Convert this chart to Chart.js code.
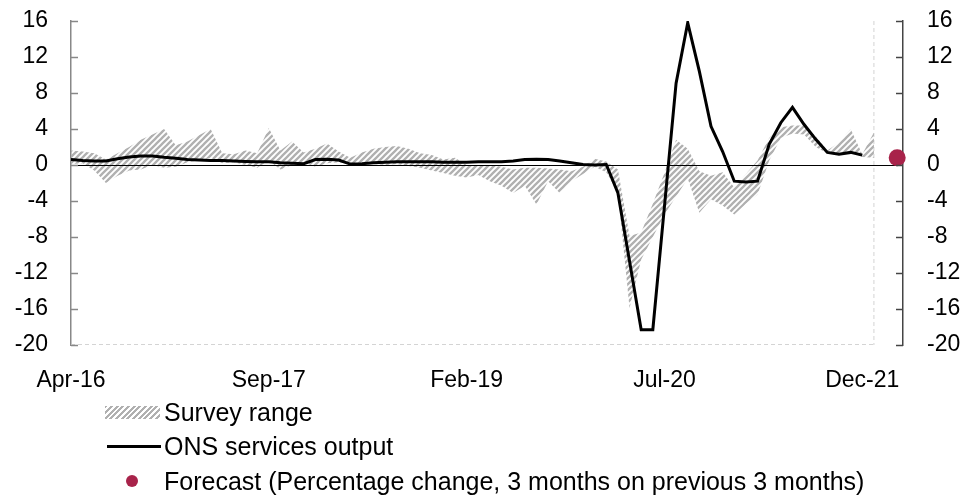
<!DOCTYPE html>
<html>
<head>
<meta charset="utf-8">
<script src="https://cdn.jsdelivr.net/npm/chart.js@4.4.1/dist/chart.umd.min.js"></script>
<style>
  body { margin: 0; background: #fff; }
  #wrap { position: relative; width: 966px; height: 497px; font-family: "Liberation Sans", Arial, sans-serif; }
  #chart { position: absolute; left: 0; top: 0; }
  .leg { position: absolute; left: 164px; font-size: 25px; color: #000; line-height: 1; white-space: nowrap; transform: translateY(-50%); }
  .sw { position: absolute; }
</style>
</head>
<body>
<div id="wrap">
  <canvas id="chart" width="966" height="497"></canvas>
  <div class="sw" style="left:105px;top:406px;width:55px;height:13px;background:repeating-linear-gradient(135deg,#b0b0b0 0 2px,#fff 2px 4px)"></div>
  <div class="leg" style="top:412px">Survey range</div>
  <div class="sw" style="left:107px;top:445px;width:54px;height:3px;background:#000"></div>
  <div class="leg" style="top:446px">ONS services output</div>
  <div class="sw" style="left:126px;top:475px;width:12px;height:12px;border-radius:50%;background:#a8234a"></div>
  <div class="leg" style="top:481px">Forecast (Percentage change, 3 months on previous 3 months)</div>
</div>
<script>
// monthly categories, Apr-16 .. Mar-22
var monthNames = ['Jan','Feb','Mar','Apr','May','Jun','Jul','Aug','Sep','Oct','Nov','Dec'];
var months = [];
for (var yr = 2016; yr <= 2022; yr++) {
  for (var m = 0; m < 12; m++) {
    if ((yr === 2016 && m < 3) || (yr === 2022 && m > 2)) continue;
    months.push(monthNames[m] + '-' + String(yr).slice(2));
  }
}

var tickLabels = ['Apr-16', 'Sep-17', 'Feb-19', 'Jul-20', 'Dec-21'];
var yTicks = [16, 12, 8, 4, 0, -4, -8, -12, -16, -20];

// ONS services output, Apr-16 .. Dec-21
var onsOutput = [0.6,0.5,0.45,0.45,0.7,0.9,1.0,1.0,0.85,0.75,
  0.6,0.55,0.5,0.5,0.45,0.4,0.35,0.35,0.25,0.2,
  0.15,0.6,0.65,0.55,0.1,0.15,0.25,0.3,0.35,0.35,
  0.35,0.35,0.3,0.3,0.3,0.35,0.35,0.35,0.45,0.6,
  0.65,0.6,0.45,0.25,0.05,0.0,0.05,-3.1,-10.7,-18.3,
  -18.3,-4.6,9.1,15.8,10.4,4.3,1.5,-1.8,-1.9,-1.8,
  2.3,4.7,6.4,4.5,2.85,1.4,1.2,1.4,1.1];

// survey range, Apr-16 .. Jan-22
var surveyHigh = [1.6,1.5,1.3,0.6,1.3,2.0,2.8,3.4,4.0,2.2,
  2.6,3.3,4.0,1.3,1.2,1.6,1.3,4.1,1.6,2.6,
  1.4,1.8,2.4,1.5,0.8,1.4,1.8,2.0,2.1,1.8,
  1.3,1.1,0.6,0.8,0.0,-0.1,0.0,-0.2,-0.5,-0.3,
  -0.3,-0.4,-0.5,-0.7,-0.2,0.7,0.4,-0.5,-7.9,-7.5,
  -4.3,-0.9,2.8,1.8,-0.7,-1.2,-0.8,-2.5,-1.0,0.5,
  3.0,4.2,4.4,4.4,3.2,1.6,2.5,4.0,1.2,3.6];
var surveyLow = [0.1,0.2,-0.6,-2.0,-1.2,-0.6,-0.5,0.0,-0.3,-0.2,
  0.3,0.5,0.8,0.2,0.3,0.0,-0.3,0.5,-0.5,0.0,
  0.3,-0.2,0.2,0.3,0.1,0.0,0.1,0.0,0.1,-0.1,
  -0.3,-0.6,-0.9,-1.2,-1.4,-1.1,-1.8,-2.3,-3.1,-2.3,
  -4.4,-1.8,-3.1,-1.8,-1.0,-0.2,-0.8,-3.0,-15.9,-10.5,
  -8.0,-5.5,-3.5,-1.5,-5.3,-3.8,-4.5,-5.5,-4.3,-3.3,
  0.5,3.0,3.5,3.4,2.0,1.3,1.3,1.5,0.9,0.8];

var forecastMonth = 'Mar-22';
var forecastValue = 0.8;
var surveyEnd = 'Jan-22';

function toPoints(arr) {
  return arr.map(function(v, i) { return {x: i, y: v}; });
}

// diagonal hatch for the survey band
function hatch() {
  var s = 6;
  var c = document.createElement('canvas');
  c.width = s; c.height = s;
  var g = c.getContext('2d');
  g.strokeStyle = '#b0b0b0';
  g.lineWidth = 2.3;
  g.beginPath();
  g.moveTo(-1, 1); g.lineTo(1, -1);
  g.moveTo(0, s); g.lineTo(s, 0);
  g.moveTo(s - 1, s + 1); g.lineTo(s + 1, s - 1);
  g.stroke();
  return g.createPattern(c, 'repeat');
}

var ctx = document.getElementById('chart').getContext('2d');

var extras = {
  id: 'extras',
  beforeDatasetsDraw: function(chart) {
    var a = chart.chartArea, c = chart.ctx, x = chart.scales.x;
    var xe = x.getPixelForValue(months.indexOf(surveyEnd));
    c.save();
    c.strokeStyle = '#d4d4d4';
    c.lineWidth = 1;
    c.setLineDash([4, 3]);
    c.beginPath();
    c.moveTo(a.left, a.bottom - 0.5); c.lineTo(xe, a.bottom - 0.5);
    c.moveTo(xe, a.top); c.lineTo(xe, a.bottom);
    c.stroke();
    c.restore();
  },
  afterDatasetDraw: function(chart, args) {
    if (args.index !== 1) return;
    var a = chart.chartArea, c = chart.ctx;
    var y0 = Math.round(chart.scales.y.getPixelForValue(0)) + 0.5;
    c.save();
    c.strokeStyle = '#000';
    c.lineWidth = 1;
    c.beginPath();
    c.moveTo(a.left, y0); c.lineTo(a.right, y0);
    c.stroke();
    c.restore();
  },
  afterDraw: function(chart) {
    var a = chart.chartArea, c = chart.ctx, y = chart.scales.y;
    c.save();
    c.lineWidth = 1.5;
    yTicks.forEach(function(v) {
      var py = Math.round(y.getPixelForValue(v)) + 0.5;
      c.strokeStyle = '#888';
      c.beginPath(); c.moveTo(a.left, py); c.lineTo(a.left + 7, py); c.stroke();
      c.strokeStyle = '#444';
      c.beginPath(); c.moveTo(a.right, py); c.lineTo(a.right - 7, py); c.stroke();
    });
    c.restore();
  }
};

var tickFont = { family: '"Liberation Sans", Arial, sans-serif', size: 23 };

function fixWidth(w) {
  return function(s) {
    s.width = w;
    s.paddingTop = 0;
    s.paddingBottom = 0;
  };
}

var chart = new Chart(ctx, {
  type: 'line',
  data: {
    datasets: [{
      label: 'Survey range',
      data: toPoints(surveyHigh),
      borderWidth: 0,
      pointRadius: 0,
      backgroundColor: hatch(),
      fill: '+1',
      order: 4
    }, {
      label: 'Survey low',
      data: toPoints(surveyLow),
      borderWidth: 0,
      pointRadius: 0,
      fill: false,
      order: 3
    }, {
      label: 'ONS services output',
      data: toPoints(onsOutput),
      borderColor: '#000',
      borderWidth: 3,
      pointRadius: 0,
      tension: 0,
      fill: false,
      order: 2
    }, {
      label: 'Forecast',
      data: [{x: months.indexOf(forecastMonth), y: forecastValue}],
      showLine: false,
      pointRadius: 8.5,
      pointBackgroundColor: '#a8234a',
      pointBorderWidth: 0,
      clip: false,
      order: 1
    }]
  },
  options: {
    responsive: false,
    animation: false,
    devicePixelRatio: 1,
    layout: { padding: { top: 21, left: 0, right: 0, bottom: 0 } },
    plugins: { legend: { display: false }, tooltip: { enabled: false } },
    scales: {
      x: {
        type: 'linear',
        min: 0,
        max: 71.5,
        grid: { display: false },
        border: { display: false },
        afterBuildTicks: function(s) {
          s.ticks = tickLabels.map(function(l) { return { value: months.indexOf(l) }; });
        },
        afterFit: function(s) { s.height = 152; s.paddingLeft = 0; s.paddingRight = 0; },
        ticks: {
          autoSkip: false,
          maxRotation: 0,
          color: '#000',
          font: tickFont,
          padding: 14,
          callback: function(v) { return months[v]; }
        }
      },
      y: {
        position: 'left',
        min: -20,
        max: 16,
        grid: { drawOnChartArea: false, drawTicks: false },
        border: { color: '#888', width: 1.5 },
        afterFit: fixWidth(71),
        ticks: { stepSize: 4, color: '#000', font: tickFont, padding: 23 }
      },
      y2: {
        position: 'right',
        min: -20,
        max: 16,
        grid: { drawOnChartArea: false, drawTicks: false },
        border: { color: '#444', width: 1.5 },
        afterFit: fixWidth(63),
        ticks: { stepSize: 4, color: '#000', font: tickFont, padding: 24 }
      }
    }
  },
  plugins: [extras]
});
</script>
</body>
</html>
